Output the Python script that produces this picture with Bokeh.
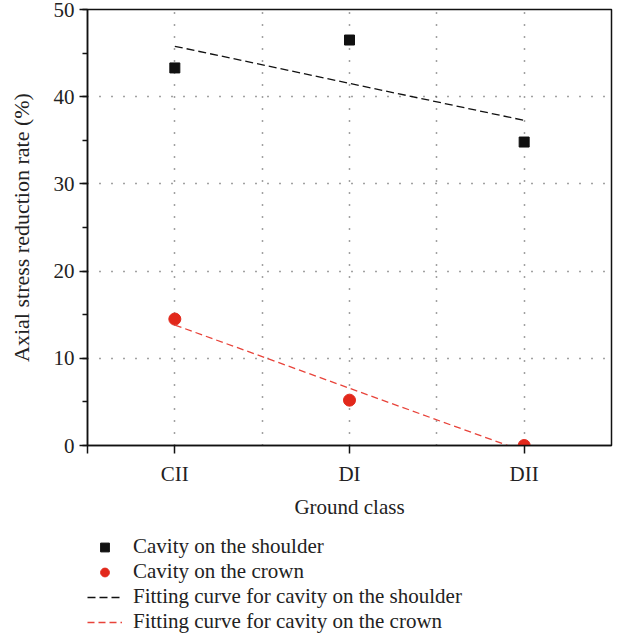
import numpy as np
from bokeh.plotting import figure
from bokeh.layouts import column
from bokeh.models import (Legend, LegendItem, FixedTicker, SingleIntervalTicker,
                          Range1d)
from bokeh.embed import file_html
from bokeh.resources import INLINE

# Axial stress reduction rate (%) per ground class
ground_classes = ["CII", "DI", "DII"]
class_pos = [1, 2, 3]
shoulder = [43.3, 46.5, 34.8]
crown = [14.5, 5.2, 0.0]

FONT = "Liberation Serif"
INK = "#111111"
RED = "#e2281b"
RED_FIT = "#e8433a"


def linear_fit(xs, ys):
    k, b = np.polyfit(xs, ys, 1)
    return [k * x + b for x in xs]


shoulder_fit = linear_fit(class_pos, shoulder)
crown_fit = linear_fit(class_pos, crown)
fit_x = [class_pos[0], class_pos[-1]]


def draw_series(fig):
    """Draw the measured points and the fitted lines on a figure."""
    r_sq = fig.scatter(class_pos, shoulder, marker="square", size=10,
                       fill_color=INK, line_color=INK)
    r_ci = fig.scatter(class_pos, crown, marker="circle", size=12,
                       fill_color=RED, line_color=RED)
    r_sf = fig.line(fit_x, [shoulder_fit[0], shoulder_fit[-1]],
                    line_color=INK, line_width=1.3, line_dash="8 4")
    r_cf = fig.line(fit_x, [crown_fit[0], crown_fit[-1]],
                    line_color=RED_FIT, line_width=1.3, line_dash="7 4")
    return r_sq, r_ci, r_sf, r_cf


p = figure(width=618, height=525, output_backend="svg", toolbar_location=None,
           x_range=Range1d(0.5, 3.5), y_range=Range1d(0, 50),
           min_border_left=87, min_border_right=7, min_border_top=9,
           min_border_bottom=80)

p.outline_line_color = INK
p.outline_line_width = 1.5

# grid: dotted lines at the classes and halfway between them
p.xgrid.ticker = FixedTicker(ticks=[1, 1.5, 2, 2.5, 3])
p.ygrid.ticker = FixedTicker(ticks=[10, 20, 30, 40])
for g in (p.xgrid, p.ygrid):
    g.grid_line_color = "#444444"
    g.grid_line_dash = "1 11"
    g.grid_line_width = 1.5

xa = p.xaxis[0]
xa.ticker = FixedTicker(ticks=[0.5] + class_pos)
xa.major_label_overrides = {0.5: ""} | {x: lab for x, lab in zip(class_pos, ground_classes)}
xa.axis_label = "Ground class"

ya = p.yaxis[0]
ya.ticker = SingleIntervalTicker(interval=10, num_minor_ticks=2)
ya.axis_label = "Axial stress reduction rate (%)"
ya.minor_tick_out = 5
ya.minor_tick_in = 0
ya.minor_tick_line_color = INK
ya.minor_tick_line_width = 1.5

for ax in (xa, ya):
    ax.axis_line_color = INK
    ax.axis_line_width = 1.5
    ax.major_tick_line_color = INK
    ax.major_tick_line_width = 1.5
    ax.major_tick_in = 0
    ax.major_tick_out = 8
    ax.major_label_text_font = FONT
    ax.major_label_text_font_size = "21px"
    ax.major_label_text_color = "#222222"
    ax.axis_label_text_font = FONT
    ax.axis_label_text_font_size = "21px"
    ax.axis_label_text_font_style = "normal"
    ax.axis_label_text_color = "#222222"
ya.axis_label_text_font_size = "22px"
xa.major_label_standoff = 8
xa.axis_label_standoff = 6
ya.major_label_standoff = 5
ya.axis_label_standoff = 17

draw_series(p)

# legend strip under the chart; its view range sits away from the data so
# only the legend swatches show
lg = figure(width=618, height=110, output_backend="svg", toolbar_location=None,
            x_range=Range1d(100, 101), y_range=Range1d(100, 101),
            x_axis_type=None, y_axis_type=None,
            min_border_left=0, min_border_right=0, min_border_top=0,
            min_border_bottom=0)
lg.outline_line_color = None
lg.grid.visible = False
k_sq, k_ci, k_sf, k_cf = draw_series(lg)

legend = Legend(items=[
    LegendItem(label="Cavity on the shoulder", renderers=[k_sq]),
    LegendItem(label="Cavity on the crown", renderers=[k_ci]),
    LegendItem(label="Fitting curve for cavity on the shoulder", renderers=[k_sf]),
    LegendItem(label="Fitting curve for cavity on the crown", renderers=[k_cf]),
], location=(0, 1))
legend.border_line_color = None
legend.background_fill_alpha = 0
legend.padding = 0
legend.margin = 0
legend.spacing = 0
legend.glyph_width = 35
legend.glyph_height = 22
legend.label_height = 22
legend.label_standoff = 11
legend.label_text_font = FONT
legend.label_text_font_size = "21px"
legend.label_text_color = "#222222"
lg.add_layout(legend, "center")

open("out.html", "w").write(file_html(column(p, lg, spacing=0), INLINE))
